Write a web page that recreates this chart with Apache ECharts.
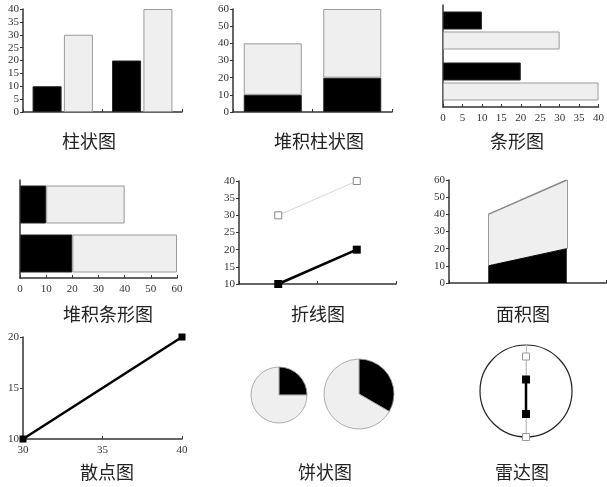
<!DOCTYPE html>
<html><head><meta charset="utf-8">
<script src="https://cdn.jsdelivr.net/npm/echarts@6/dist/echarts.min.js"></script>
<style>html,body{margin:0;padding:0;background:#fff}#c{width:607px;height:487px}</style>
</head><body><div id="c"></div>
<script>
// ---- data ----
const categories = ['类别1', '类别2'];
const seriesDark = [10, 20];
const seriesLight = [30, 40];
const scatterX = [30, 40];
const scatterY = [10, 20];
const chartTitles = ['柱状图', '堆积柱状图', '条形图', '堆积条形图', '折线图', '面积图', '散点图', '饼状图', '雷达图'];

// ---- styles ----
const DARK = '#000';
const LIGHT = '#efefef';
const LIGHT_BORDER = '#9a9a9a';
const AXIS = '#333';
const labelFont = {fontFamily: 'Liberation Serif', fontSize: 11, color: '#333'};

function valAxis(idx, min, max, interval, opts) {
  return Object.assign({
    type: 'value', gridIndex: idx, min: min, max: max, interval: interval,
    axisLine: {show: true, lineStyle: {color: AXIS, width: 1.5}},
    axisTick: {show: true, length: 3, lineStyle: {color: AXIS}},
    axisLabel: Object.assign({margin: 4}, labelFont),
    splitLine: {show: false}
  }, opts || {});
}
function catAxis(idx, opts) {
  return Object.assign({
    type: 'category', gridIndex: idx, data: categories, boundaryGap: true,
    axisLine: {show: true, lineStyle: {color: AXIS, width: 1.5}},
    axisTick: {show: true, inside: true, length: 3, lineStyle: {color: AXIS}},
    axisLabel: {show: false},
    splitLine: {show: false}
  }, opts || {});
}
const darkItem = {color: DARK, borderColor: '#222', borderWidth: 1};
const lightItem = {color: LIGHT, borderColor: LIGHT_BORDER, borderWidth: 1};

const grids = [
  {left: 23, top: 9, width: 159, height: 103},
  {left: 233, top: 9, width: 159, height: 103},
  {left: 443, top: 5, width: 158, height: 102},
  {left: 20, top: 180, width: 157, height: 98},
  {left: 239, top: 181, width: 157, height: 103},
  {left: 449, top: 180, width: 157, height: 103},
  {left: 23, top: 337, width: 159, height: 102}
];

const insideTick = {show: true, inside: true, length: 3, lineStyle: {color: AXIS}};
const xAxes = [
  catAxis(0),
  catAxis(1),
  valAxis(2, 0, 40, 5, {axisTick: insideTick, axisLabel: Object.assign({margin: 6}, labelFont)}),
  valAxis(3, 0, 60, 10, {axisTick: insideTick, axisLabel: Object.assign({margin: 6}, labelFont)}),
  catAxis(4),
  catAxis(5),
  valAxis(6, 30, 40, 5, {axisTick: insideTick, axisLabel: Object.assign({margin: 6}, labelFont)})
];
const yAxes = [
  valAxis(0, 0, 40, 5),
  valAxis(1, 0, 60, 10),
  catAxis(2, {inverse: true, axisTick: {show: false}}),
  catAxis(3, {inverse: true, axisTick: {show: false}}),
  valAxis(4, 10, 40, 5),
  valAxis(5, 0, 60, 10),
  valAxis(6, 10, 20, 5)
];

const areaEdges = categories.map((c, i) => [
  {coord: [i, seriesDark[i]]},
  {coord: [i, seriesDark[i] + seriesLight[i]]}
]);

const series = [
  // 1 bar
  {type: 'bar', xAxisIndex: 0, yAxisIndex: 0, data: seriesDark, barWidth: 29, barGap: '8%', itemStyle: darkItem},
  {type: 'bar', xAxisIndex: 0, yAxisIndex: 0, data: seriesLight, barWidth: 29, barGap: '8%', itemStyle: lightItem},
  // 2 stacked bar
  {type: 'bar', xAxisIndex: 1, yAxisIndex: 1, stack: 's2', data: seriesDark, barWidth: 58, itemStyle: darkItem},
  {type: 'bar', xAxisIndex: 1, yAxisIndex: 1, stack: 's2', data: seriesLight, barWidth: 58, itemStyle: lightItem},
  // 3 horizontal bar
  {type: 'bar', xAxisIndex: 2, yAxisIndex: 2, data: seriesDark, barWidth: 18, barGap: '11%', itemStyle: darkItem},
  {type: 'bar', xAxisIndex: 2, yAxisIndex: 2, data: seriesLight, barWidth: 18, barGap: '11%', itemStyle: lightItem},
  // 4 stacked horizontal bar
  {type: 'bar', xAxisIndex: 3, yAxisIndex: 3, stack: 's4', data: seriesDark, barWidth: 38, itemStyle: darkItem},
  {type: 'bar', xAxisIndex: 3, yAxisIndex: 3, stack: 's4', data: seriesLight, barWidth: 38, itemStyle: lightItem},
  // 5 line
  {type: 'line', xAxisIndex: 4, yAxisIndex: 4, data: seriesLight, symbol: 'rect', symbolSize: 7,
   itemStyle: {color: '#fff', borderColor: '#888', borderWidth: 1}, lineStyle: {color: '#d8d8d8', width: 1}, clip: false},
  {type: 'line', xAxisIndex: 4, yAxisIndex: 4, data: seriesDark, symbol: 'rect', symbolSize: 8,
   itemStyle: {color: DARK}, lineStyle: {color: DARK, width: 2.5}, clip: false},
  // 6 stacked area
  {type: 'line', xAxisIndex: 5, yAxisIndex: 5, stack: 'a6', data: seriesDark, symbol: 'none',
   lineStyle: {color: DARK, width: 1}, areaStyle: {color: DARK, opacity: 1}},
  {type: 'line', xAxisIndex: 5, yAxisIndex: 5, stack: 'a6', data: seriesLight, symbol: 'none',
   lineStyle: {color: '#888', width: 1.5}, areaStyle: {color: LIGHT, opacity: 1},
   markLine: {silent: true, symbol: 'none', label: {show: false}, lineStyle: {color: '#999', width: 1, type: 'solid'}, data: areaEdges}},
  // 7 scatter (with connecting line)
  {type: 'line', xAxisIndex: 6, yAxisIndex: 6, data: scatterX.map((x, i) => [x, scatterY[i]]), symbol: 'rect', symbolSize: 7,
   itemStyle: {color: DARK}, lineStyle: {color: DARK, width: 2.5}, clip: false},
  // 8 pies
  {type: 'pie', center: [279, 395], radius: 28, startAngle: 90, clockwise: true, label: {show: false}, silent: true,
   data: [{value: seriesDark[0], itemStyle: {color: DARK}}, {value: seriesLight[0], itemStyle: {color: LIGHT}}],
   itemStyle: {borderColor: '#999', borderWidth: 0.8}},
  {type: 'pie', center: [359, 394], radius: 35, startAngle: 90, clockwise: true, label: {show: false}, silent: true,
   data: [{value: seriesDark[1], itemStyle: {color: DARK}}, {value: seriesLight[1], itemStyle: {color: LIGHT}}],
   itemStyle: {borderColor: '#999', borderWidth: 0.8}},
  // 9 radar
  {type: 'radar', radarIndex: 0, symbol: 'rect', symbolSize: 7,
   data: [
     {value: seriesLight, itemStyle: {color: '#fff', borderColor: '#999', borderWidth: 1}, lineStyle: {color: '#ccc', width: 1.5, type: 'dotted'}},
     {value: seriesDark, symbolSize: 8, itemStyle: {color: DARK}, lineStyle: {color: DARK, width: 2.5}}
   ]}
];

const graphic = [];
const titlePos = [[89, 141], [319, 141], [517, 141], [108, 314], [318, 314], [523, 314], [107, 472], [325, 472], [522, 472]];
chartTitles.forEach((t, i) => {
  graphic.push({type: 'text', x: titlePos[i][0], y: titlePos[i][1],
    style: {text: t, fontFamily: 'Noto Sans CJK SC', fontSize: 18, fill: '#222', textAlign: 'center', textVerticalAlign: 'middle'}});
});

const option = {
  animation: false,
  backgroundColor: '#fff',
  grid: grids,
  xAxis: xAxes,
  yAxis: yAxes,
  radar: {
    center: [526, 391], radius: 46, startAngle: 90, shape: 'circle', splitNumber: 1,
    indicator: categories.map(c => ({name: c, min: 0, max: 40})),
    axisName: {show: false},
    splitLine: {lineStyle: {color: '#222', width: 1.2}},
    splitArea: {show: false},
    axisLine: {lineStyle: {color: '#bbb', width: 1}}
  },
  series: series,
  graphic: graphic
};
const chart = echarts.init(document.getElementById('c'), null, {renderer: 'canvas'});
chart.setOption(option);
</script></body></html>
